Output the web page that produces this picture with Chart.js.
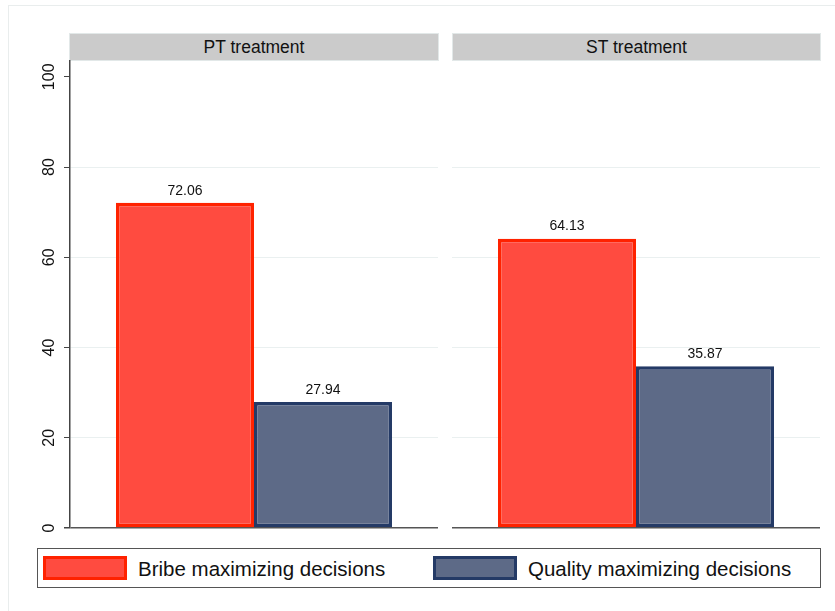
<!DOCTYPE html>
<html>
<head>
<meta charset="utf-8">
<script src="https://cdn.jsdelivr.net/npm/chart.js@4"></script>
<style>
  body { margin: 0; background: #fff; font-family: "Liberation Sans", Arial, sans-serif; }
  #wrap { position: relative; width: 835px; height: 611px; overflow: hidden; }
  .frame { position: absolute; left: 8px; top: 5px; width: 826px; height: 620px; border: 1px solid #e9eded; }
  .strip { position: absolute; top: 33px; height: 28px; background: #cbcbcb; border: 1px solid #e2e8e8;
           box-sizing: border-box; text-align: center; font-size: 17.5px; line-height: 26px; color: #111; }
  canvas { position: absolute; }
  #legend { position: absolute; left: 37px; top: 548px; width: 784px; height: 40px; box-sizing: border-box;
            border: 1.5px solid #555; }
  .item { position: absolute; top: 7px; height: 26px; font-size: 20.5px; line-height: 26px; color: #111; }
  .sw { position: absolute; left: 0; top: 0; width: 84px; height: 24px; box-sizing: border-box; border: 3px solid; }
  .item span { position: absolute; left: 95px; white-space: nowrap; }
</style>
</head>
<body>
<div id="wrap">
  <div class="frame"></div>
  <div class="strip" id="s0" style="left:69px;width:370px;"></div>
  <div class="strip" id="s1" style="left:452px;width:369px;"></div>
  <canvas id="c0" width="445" height="540" style="left:0;top:0;"></canvas>
  <canvas id="c1" width="390" height="540" style="left:445px;top:0;"></canvas>
  <div id="legend"></div>
</div>
<script>
const panels = ["PT treatment", "ST treatment"];
const series = ["Bribe maximizing decisions", "Quality maximizing decisions"];
const bribe = [72.06, 64.13];
const quality = [27.94, 35.87];
const yTicks = [0, 20, 40, 60, 80, 100];

const fills = ["#ff4b40", "#5d6a87"];
const borders = ["#ff2200", "#243a66"];

// value labels above bars
const valueLabels = {
  id: "valueLabels",
  afterDatasetsDraw(chart) {
    const ctx = chart.ctx;
    ctx.save();
    ctx.font = "14px 'Liberation Sans', Arial, sans-serif";
    ctx.fillStyle = "#111";
    ctx.textAlign = "center";
    ctx.textBaseline = "bottom";
    chart.data.datasets.forEach((ds, i) => {
      chart.getDatasetMeta(i).data.forEach((bar, j) => {
        ctx.fillText(ds.data[j].toFixed(2), bar.x, bar.y - 5);
      });
    });
    ctx.restore();
  }
};

// rotated y tick labels (Stata style)
const rotatedTicks = {
  id: "rotatedTicks",
  afterDraw(chart) {
    if (!chart.options.plugins.rotatedTicks.show) return;
    const y = chart.scales.y;
    const ctx = chart.ctx;
    ctx.save();
    ctx.font = "16px 'Liberation Sans', Arial, sans-serif";
    ctx.fillStyle = "#111";
    ctx.textAlign = "center";
    ctx.textBaseline = "middle";
    yTicks.forEach(v => {
      ctx.save();
      ctx.translate(50, y.getPixelForValue(v));
      ctx.rotate(-Math.PI / 2);
      ctx.fillText(String(v), 0, 0);
      ctx.restore();
    });
    ctx.restore();
  }
};

function makeChart(id, i, first) {
  return new Chart(document.getElementById(id), {
    type: "bar",
    data: {
      labels: [panels[i]],
      datasets: [
        { label: series[0], data: [bribe[i]], backgroundColor: fills[0], borderColor: borders[0],
          borderWidth: 3.5, borderSkipped: false },
        { label: series[1], data: [quality[i]], backgroundColor: fills[1], borderColor: borders[1],
          borderWidth: 3.5, borderSkipped: false }
      ]
    },
    options: {
      responsive: false,
      animation: false,
      layout: { padding: first ? { top: 61, bottom: 12, left: 0, right: 7 } : { top: 61, bottom: 12, left: 7, right: 15 } },
      datasets: { bar: { categoryPercentage: 0.75, barPercentage: 1 } },
      plugins: { legend: { display: false }, tooltip: { enabled: false }, rotatedTicks: { show: first } },
      scales: {
        x: { display: false },
        y: {
          min: 0, max: 103.5,
          ticks: { display: false, stepSize: 20 },
          afterBuildTicks: s => { s.ticks = s.ticks.filter(t => yTicks.includes(t.value)); },
          afterFit: s => { s.width = first ? 70 : 0; },
          border: { display: first, color: "#444", width: 1.5 },
          grid: {
            drawTicks: first,
            tickLength: 6,
            tickColor: "#444",
            lineWidth: c => (c.tick && c.tick.value === 0 ? 1.5 : 1),
            color: c => {
              if (!c.tick) return "#eef2f2";
              if (c.tick.value === 0) return "#555";
              if (c.tick.value === 100) return "rgba(0,0,0,0)";
              return "#eaf0f0";
            }
          }
        }
      }
    },
    plugins: [valueLabels, rotatedTicks]
  });
}

document.getElementById("s0").textContent = panels[0];
document.getElementById("s1").textContent = panels[1];
makeChart("c0", 0, true);
makeChart("c1", 1, false);

// legend
const lg = document.getElementById("legend");
const lefts = [5, 395];
series.forEach((name, k) => {
  const it = document.createElement("div");
  it.className = "item";
  it.style.left = lefts[k] + "px";
  it.innerHTML = '<div class="sw" style="background:' + fills[k] + ';border-color:' + borders[k] + '"></div><span>' + name + '</span>';
  lg.appendChild(it);
});
</script>
</body>
</html>
